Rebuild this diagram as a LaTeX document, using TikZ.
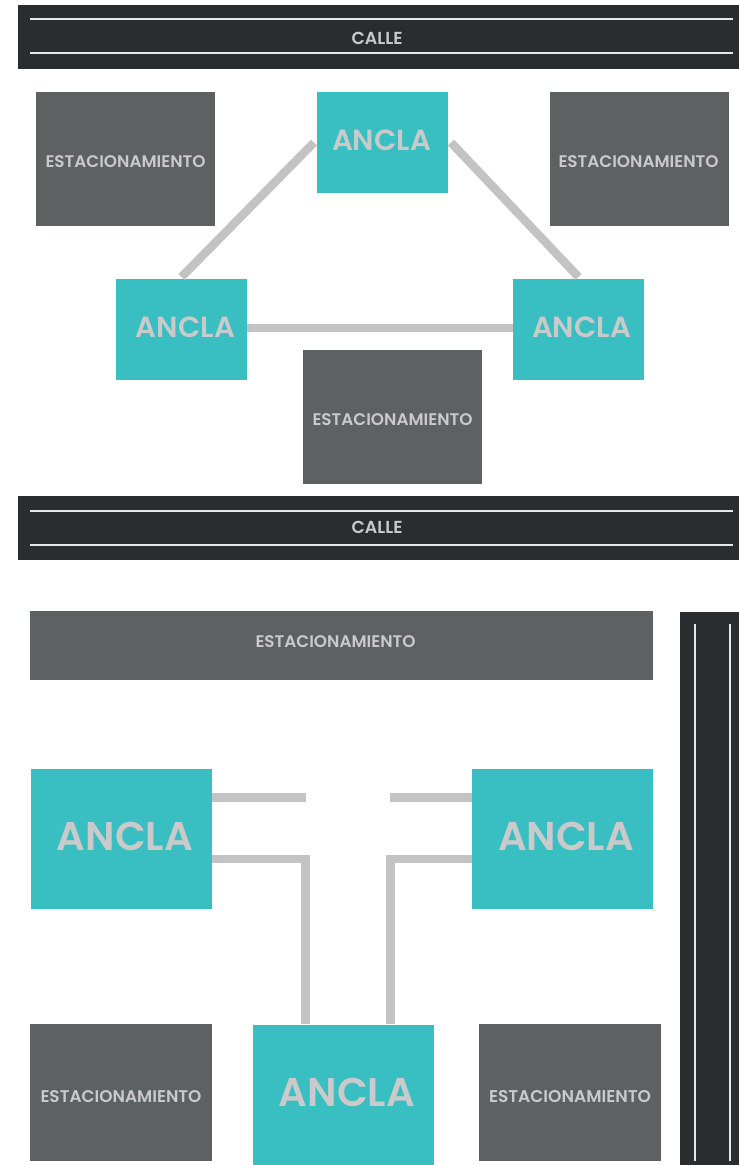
\documentclass[tikz,border=0pt]{standalone}
\usepackage{fontspec}
\setmainfont{Poppins}
\newfontfamily\lblfont{Poppins SemiBold}
\usepackage{graphicx}
\definecolor{teal}{HTML}{39BEC2}
\definecolor{parkgray}{HTML}{5D6162}
\definecolor{road}{HTML}{2A2D30}
\definecolor{linkgray}{HTML}{C2C3C2}
\definecolor{labelgray}{HTML}{CACACA}
\definecolor{laneline}{HTML}{E6E6E6}
% text scaled to a given width
\newcommand{\fitw}[2]{\resizebox{#1}{!}{\lblfont #2}}
% label of given width, its cap centre moved by (dx,dy) from the box centre (dy downwards)
\newsavebox\lblbox
\newcommand{\lbl}[4]{%
  \sbox\lblbox{\fitw{#1}{#4}}%
  \raisebox{\dimexpr -#3 - 0.5\ht\lblbox\relax}[0pt][0pt]{\makebox[0pt]{\kern#2\usebox\lblbox\kern-#2}}}
\begin{document}
\begin{tikzpicture}[x=1pt,y=-1pt,
  block/.style={anchor=north west,inner sep=0pt,outer sep=0pt,text=labelgray},
  park/.style={block,fill=parkgray},
  anchorbox/.style={block,fill=teal},
  link/.style={draw=linkgray,line width=8.5pt,line cap=butt,line join=miter},
  lane/.style={draw=laneline,line width=2pt},
  roadlabel/.style={text=labelgray,inner sep=0pt}]
\useasboundingbox (0,0) rectangle (739,1165);

% streets
\fill[road] (18,5) rectangle (739,69);
\draw[lane] (30,19) -- (733,19);
\draw[lane] (30,53) -- (733,53);
\node[roadlabel] (calle1) at (377,38) {\fitw{51pt}{CALLE}};

\fill[road] (18,496) rectangle (739,560);
\draw[lane] (30,511) -- (733,511);
\draw[lane] (30,545) -- (733,545);
\node[roadlabel] (calle2) at (377,527) {\fitw{51pt}{CALLE}};

\fill[road] (680,612) rectangle (739,1165);
\draw[lane] (695,624) -- (695,1161);
\draw[lane] (730,624) -- (730,1161);

% upper layout
\node[park,minimum width=179pt,minimum height=134pt] (p1) at (36,92) {\lbl{160pt}{0pt}{2.7pt}{ESTACIONAMIENTO}};
\node[park,minimum width=179pt,minimum height=134pt] (p2) at (550,92) {\lbl{160pt}{-1pt}{3pt}{ESTACIONAMIENTO}};
\node[park,minimum width=179pt,minimum height=134pt] (p3) at (303,350) {\lbl{160pt}{0pt}{3pt}{ESTACIONAMIENTO}};
\node[anchorbox,minimum width=131pt,minimum height=101pt] (a1) at (317,92) {\lbl{99pt}{-1pt}{-2pt}{ANCLA}};
\node[anchorbox,minimum width=131pt,minimum height=101pt] (a2) at (116,279) {\lbl{99pt}{4pt}{-2pt}{ANCLA}};
\node[anchorbox,minimum width=131pt,minimum height=101pt] (a3) at (513,279) {\lbl{99pt}{3pt}{-2pt}{ANCLA}};

\draw[link] ([xshift=-3pt]a1.west) -- ([yshift=2pt]a2.north);
\draw[link] ([xshift=3pt]a1.east) -- ([yshift=2pt]a3.north);
\draw[link] ([yshift=1.5pt]a2.east) -- ([yshift=1.5pt]a3.west);

% lower layout
\node[park,minimum width=623pt,minimum height=69pt] (p4) at (30,611) {\lbl{160pt}{-6pt}{-3.5pt}{ESTACIONAMIENTO}};
\node[park,minimum width=182pt,minimum height=137pt] (p5) at (30,1024) {\lbl{161pt}{0pt}{4pt}{ESTACIONAMIENTO}};
\node[park,minimum width=182pt,minimum height=137pt] (p6) at (479,1024) {\lbl{162pt}{0pt}{3.5pt}{ESTACIONAMIENTO}};
\node[anchorbox,minimum width=181pt,minimum height=140pt] (b1) at (31,769) {\lbl{136pt}{3.5pt}{-3pt}{ANCLA}};
\node[anchorbox,minimum width=181pt,minimum height=140pt] (b2) at (472,769) {\lbl{136pt}{3.5pt}{-3pt}{ANCLA}};
\node[anchorbox,minimum width=181pt,minimum height=140pt] (b3) at (253,1025) {\lbl{136pt}{3.5pt}{-3pt}{ANCLA}};

\coordinate (stubL) at (306,797.5);
\coordinate (stubR) at (390,797.5);
\draw[link] (b1.east |- stubL) -- (stubL);
\draw[link] (b2.west |- stubR) -- (stubR);
\coordinate (joinL) at ([xshift=52.5pt]b3.north west);
\coordinate (joinR) at ([xshift=137.5pt]b3.north west);
\draw[link] ([yshift=-90pt]b1.north east) -| ([yshift=1pt]joinL);
\draw[link] ([yshift=-90pt]b2.north west) -| ([yshift=1pt]joinR);
\end{tikzpicture}
\end{document}
